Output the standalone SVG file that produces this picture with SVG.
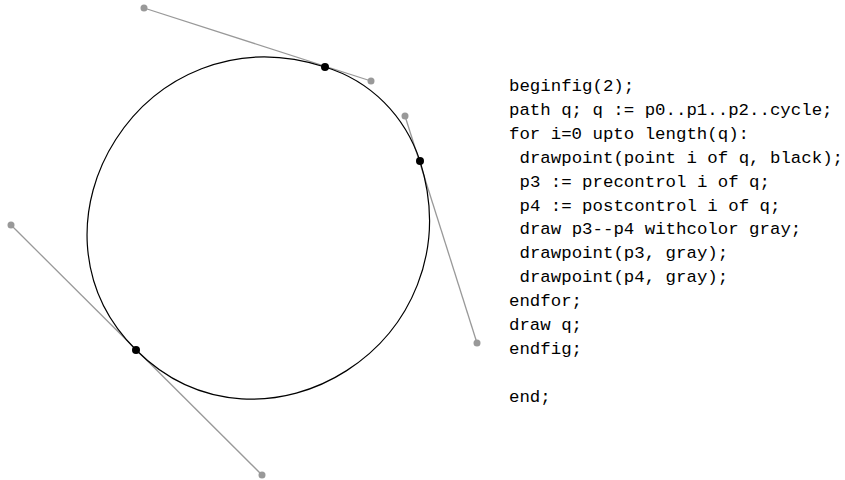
<svg xmlns="http://www.w3.org/2000/svg" width="845" height="480" viewBox="0 0 845 480">
<style>
.curve{fill:none;stroke:#000;stroke-width:1.2}
.ctl{fill:none;stroke:#999;stroke-width:1.3}
.kp{fill:#000}
.cp{fill:#999}
.code{font-family:"Liberation Mono","DejaVu Sans Mono",monospace;font-size:17.4px;fill:#000}
</style>
<rect width="845" height="480" fill="#fff"/>
<g id="connectors">
<line class="ctl" x1="144" y1="8" x2="371" y2="81"/>
<line class="ctl" x1="405" y1="116" x2="477" y2="343"/>
<line class="ctl" x1="262" y1="475" x2="11" y2="225"/>
</g>
<g id="p0"><circle class="kp" cx="325" cy="67" r="4"/><circle class="cp" cx="144" cy="8" r="3.5"/><circle class="cp" cx="371" cy="81" r="3.5"/></g>
<g id="p1"><circle class="kp" cx="420" cy="161" r="4"/><circle class="cp" cx="405" cy="116" r="3.5"/><circle class="cp" cx="477" cy="343" r="3.5"/></g>
<g id="p2"><circle class="kp" cx="136" cy="350" r="4"/><circle class="cp" cx="11" cy="225" r="3.5"/><circle class="cp" cx="262" cy="475" r="3.5"/></g>
<g id="path-q"><path class="curve" d="M325,67 C371,81 405,116 420,161 C477,343 262,475 136,350 C11,225 144,8 325,67 Z"/></g>
<g id="code" class="code">
<text x="509" y="91">beginfig(2);</text>
<text x="509" y="114.9">path q; q := p0..p1..p2..cycle;</text>
<text x="509" y="138.8">for i=0 upto length(q):</text>
<text x="519.5" y="162.7">drawpoint(point i of q, black);</text>
<text x="519.5" y="186.6">p3 := precontrol i of q;</text>
<text x="519.5" y="210.5">p4 := postcontrol i of q;</text>
<text x="519.5" y="234.4">draw p3--p4 withcolor gray;</text>
<text x="519.5" y="258.3">drawpoint(p3, gray);</text>
<text x="519.5" y="282.2">drawpoint(p4, gray);</text>
<text x="509" y="306.1">endfor;</text>
<text x="509" y="330">draw q;</text>
<text x="509" y="353.9">endfig;</text>
<text x="509" y="401.7">end;</text>
</g>
</svg>
